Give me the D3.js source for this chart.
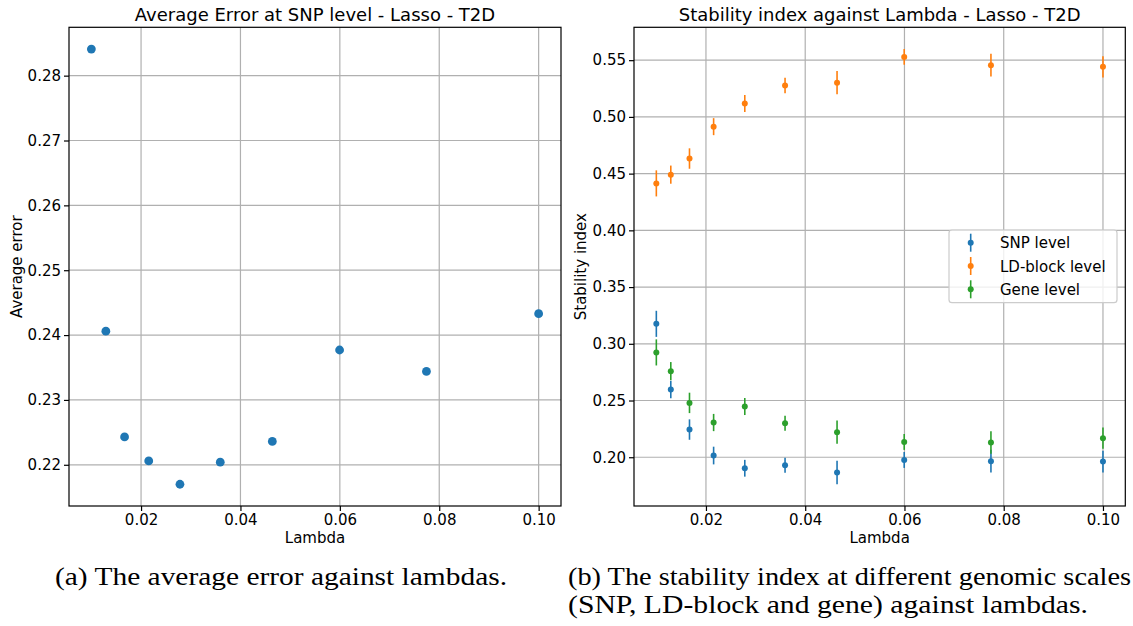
<!DOCTYPE html>
<html><head><meta charset="utf-8">
<script src="https://cdn.jsdelivr.net/npm/d3@7"></script>
<style>html,body{margin:0;padding:0;background:#fff;} svg{display:block;}</style>
</head><body><svg id="c" width="1133" height="626"></svg>
<script>
// ---------- data ----------
const lambdas   = [0.01, 0.012915, 0.016681, 0.021544, 0.027826, 0.035938, 0.046416, 0.059948, 0.077426, 0.1];
const avgError  = [0.2841, 0.2406, 0.2243, 0.2206, 0.2170, 0.2204, 0.2236, 0.2377, 0.2344, 0.2433];

const snpStab   = [0.3176, 0.2597, 0.2244, 0.2015, 0.1903, 0.1929, 0.1865, 0.1976, 0.1965, 0.1962];
const snpErr    = [0.0115, 0.0077, 0.0090, 0.0078, 0.0074, 0.0066, 0.0103, 0.0070, 0.0100, 0.0096];
const ldStab    = [0.4414, 0.4491, 0.4633, 0.4914, 0.5118, 0.5276, 0.5302, 0.5529, 0.5456, 0.5441];
const ldErr     = [0.0115, 0.0080, 0.0090, 0.0075, 0.0075, 0.0068, 0.0102, 0.0069, 0.0100, 0.0094];
const geneStab  = [0.2924, 0.2759, 0.2479, 0.2306, 0.2447, 0.2300, 0.2221, 0.2135, 0.2129, 0.2168];
const geneErr   = [0.0115, 0.0080, 0.0090, 0.0076, 0.0075, 0.0066, 0.0103, 0.0070, 0.0099, 0.0094];

const seriesNames  = ["SNP level", "LD-block level", "Gene level"];
const seriesColors = ["#1f77b4", "#ff7f0e", "#2ca02c"];

const xTicks      = [0.02, 0.04, 0.06, 0.08, 0.10];
const leftYTicks  = [0.22, 0.23, 0.24, 0.25, 0.26, 0.27, 0.28];
const rightYTicks = [0.20, 0.25, 0.30, 0.35, 0.40, 0.45, 0.50, 0.55];

const titles  = ["Average Error at SNP level - Lasso - T2D", "Stability index against Lambda - Lasso - T2D"];
const xLabel  = "Lambda";
const yLabels = ["Average error", "Stability index"];
const captionA  = "(a) The average error against lambdas.";
const captionB1 = "(b) The stability index at different genomic scales";
const captionB2 = "(SNP, LD-block and gene) against lambdas.";

// ---------- layout ----------
const FONT = "DejaVu Sans, sans-serif";
const svg = d3.select("#c");
const boxL = {x0: 69, x1: 561, y0: 27.3, y1: 506};
const boxR = {x0: 634, x1: 1125.3, y0: 27.3, y1: 506};

function padded(lo, hi) { const m = (hi - lo) * 0.05; return [lo - m, hi + m]; }

const xDom = padded(d3.min(lambdas), d3.max(lambdas));
const xL = d3.scaleLinear().domain(xDom).range([boxL.x0, boxL.x1]);
const xR = d3.scaleLinear().domain(xDom).range([boxR.x0, boxR.x1]);
const yL = d3.scaleLinear().domain(padded(d3.min(avgError), d3.max(avgError))).range([boxL.y1, boxL.y0]);

const series = [
  {name: seriesNames[0], color: seriesColors[0], v: snpStab,  e: snpErr},
  {name: seriesNames[1], color: seriesColors[1], v: ldStab,   e: ldErr},
  {name: seriesNames[2], color: seriesColors[2], v: geneStab, e: geneErr}
];
const allLo = d3.min(series, s => d3.min(s.v, (d, i) => d - s.e[i]));
const allHi = d3.max(series, s => d3.max(s.v, (d, i) => d + s.e[i]));
const yR = d3.scaleLinear().domain(padded(allLo, allHi)).range([boxR.y1, boxR.y0]);

function frame(box, x, y, yTicks, title, ylabel, ylabelX) {
  const g = svg.append("g");
  // grid
  g.append("g").selectAll("line").data(xTicks).join("line")
    .attr("x1", d => x(d)).attr("x2", d => x(d)).attr("y1", box.y0).attr("y2", box.y1)
    .attr("stroke", "#b0b0b0").attr("stroke-width", 1.2);
  g.append("g").selectAll("line").data(yTicks).join("line")
    .attr("y1", d => y(d)).attr("y2", d => y(d)).attr("x1", box.x0).attr("x2", box.x1)
    .attr("stroke", "#b0b0b0").attr("stroke-width", 1.2);
  // axes
  const ax = g.append("g").attr("transform", `translate(0,${box.y1})`)
    .call(d3.axisBottom(x).tickValues(xTicks).tickFormat(d3.format(".2f")).tickSize(5).tickPadding(3));
  const ay = g.append("g").attr("transform", `translate(${box.x0},0)`)
    .call(d3.axisLeft(y).tickValues(yTicks).tickFormat(d3.format(".2f")).tickSize(5).tickPadding(3));
  [ax, ay].forEach(a => {
    a.select(".domain").remove();
    a.selectAll("line").attr("stroke", "#000").attr("stroke-width", 1.2);
    a.selectAll("text").attr("font-family", FONT).attr("font-size", 15).attr("fill", "#000");
  });
  // title + labels
  svg.append("text").attr("x", (box.x0 + box.x1) / 2).attr("y", 21)
    .attr("text-anchor", "middle").attr("font-family", FONT).attr("font-size", 18).text(title);
  svg.append("text").attr("x", (box.x0 + box.x1) / 2).attr("y", 543)
    .attr("text-anchor", "middle").attr("font-family", FONT).attr("font-size", 15).text(xLabel);
  svg.append("text").attr("transform", `translate(${ylabelX},${(box.y0 + box.y1) / 2}) rotate(-90)`)
    .attr("text-anchor", "middle").attr("font-family", FONT).attr("font-size", 15).text(ylabel);
  return g;
}
function spines(box) {
  svg.append("rect").attr("x", box.x0).attr("y", box.y0)
    .attr("width", box.x1 - box.x0).attr("height", box.y1 - box.y0)
    .attr("fill", "none").attr("stroke", "#000").attr("stroke-width", 1.2);
}

// ---------- left chart ----------
frame(boxL, xL, yL, leftYTicks, titles[0], yLabels[0], 21.5);
svg.append("g").selectAll("circle").data(lambdas).join("circle")
  .attr("cx", d => xL(d)).attr("cy", (d, i) => yL(avgError[i])).attr("r", 4.4)
  .attr("fill", seriesColors[0]);
spines(boxL);

// ---------- right chart ----------
frame(boxR, xR, yR, rightYTicks, titles[1], yLabels[1], 586);
series.forEach(s => {
  const g = svg.append("g");
  g.selectAll("line").data(lambdas).join("line")
    .attr("x1", d => xR(d)).attr("x2", d => xR(d))
    .attr("y1", (d, i) => yR(s.v[i] - s.e[i])).attr("y2", (d, i) => yR(s.v[i] + s.e[i]))
    .attr("stroke", s.color).attr("stroke-width", 1.6);
  g.selectAll("circle").data(lambdas).join("circle")
    .attr("cx", d => xR(d)).attr("cy", (d, i) => yR(s.v[i])).attr("r", 3)
    .attr("fill", s.color);
});
spines(boxR);

// legend
const lg = svg.append("g");
lg.append("rect").attr("x", 949).attr("y", 230).attr("width", 168).attr("height", 72.7)
  .attr("rx", 3).attr("fill", "#fff").attr("fill-opacity", 0.8).attr("stroke", "#cccccc").attr("stroke-width", 1.2);
series.forEach((s, i) => {
  const cy = 242.7 + i * 23.3;
  lg.append("line").attr("x1", 970.7).attr("x2", 970.7).attr("y1", cy - 9).attr("y2", cy + 9)
    .attr("stroke", s.color).attr("stroke-width", 1.6);
  lg.append("circle").attr("cx", 970.7).attr("cy", cy).attr("r", 3).attr("fill", s.color);
  lg.append("text").attr("x", 1000).attr("y", cy + 5.5).attr("font-family", FONT).attr("font-size", 15).text(s.name);
});

// captions
const SERIF = "Liberation Serif, DejaVu Serif, serif";
function caption(txt, x, y, w) {
  svg.append("text").attr("x", x).attr("y", y).attr("font-family", SERIF).attr("font-size", 25)
    .attr("textLength", w).attr("lengthAdjust", "spacingAndGlyphs").attr("fill", "#000").text(txt);
}
caption(captionA, 55, 585, 452);
caption(captionB1, 568, 585, 563);
caption(captionB2, 568, 613, 520);
</script></body></html>
